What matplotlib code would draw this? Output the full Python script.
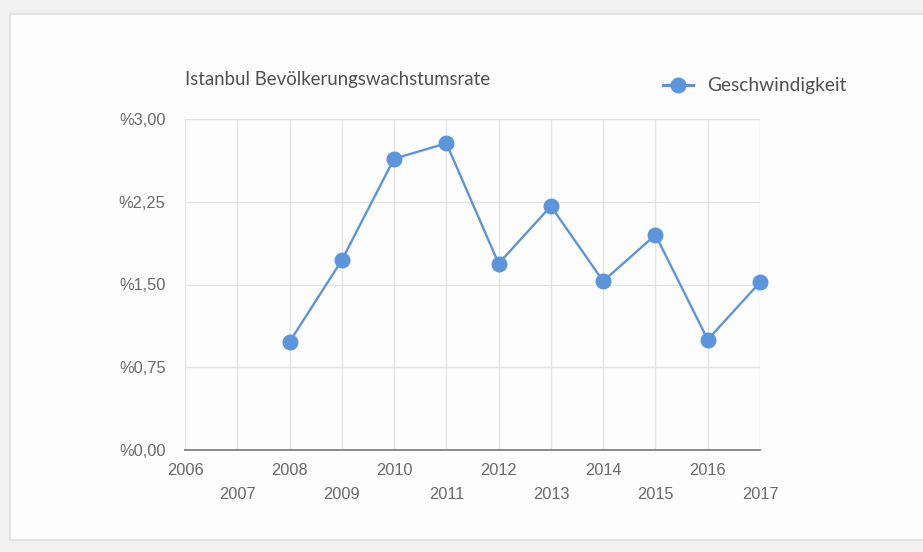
import matplotlib
matplotlib.use("Agg")
import matplotlib.pyplot as plt
from matplotlib.patches import Rectangle

years = [2008, 2009, 2010, 2011, 2012, 2013, 2014, 2015, 2016, 2017]
rates = [0.98, 1.72, 2.64, 2.78, 1.69, 2.21, 1.53, 1.95, 1.00, 1.52]
x_ticks = list(range(2006, 2018))
y_ticks = [0.0, 0.75, 1.5, 2.25, 3.0]
y_labels = ["%0,00", "%0,75", "%1,50", "%2,25", "%3,00"]
title = "Istanbul Bevölkerungswachstumsrate"
series_name = "Geschwindigkeit"

W, H = 923, 552
fig = plt.figure(figsize=(W / 100, H / 100), dpi=100)
fig.patch.set_facecolor("#f1f1f1")

# card background
bg = fig.add_axes([0, 0, 1, 1], zorder=0)
bg.set_xlim(0, W)
bg.set_ylim(H, 0)
bg.axis("off")
bg.add_patch(Rectangle((10, 14), W, 526, facecolor="#fdfdfd", edgecolor="#e0e0e0", lw=1.2))

ax = fig.add_axes([185 / W, 1 - 450 / H, (760 - 185) / W, (450 - 119) / H], zorder=2)
ax.set_facecolor("none")
blue = "#5b95dc"
ax.plot(years, rates, color=blue, lw=1.7, marker="o", markersize=10.5, zorder=3, clip_on=False)

tick_fs = 11.8
ax.set_xlim(2006, 2017)
ax.set_ylim(0, 3.0)
ax.set_xticks(x_ticks)
ax.set_xticklabels([str(y) if y % 2 == 0 else "" for y in x_ticks])
ax.set_yticks(y_ticks)
ax.set_yticklabels(y_labels)
ax.grid(True, color="#e4e4e4", lw=1.0)
ax.set_axisbelow(True)
for s in ["top", "right", "left"]:
    ax.spines[s].set_visible(False)
ax.spines["bottom"].set_color("#8a8a8a")
ax.spines["bottom"].set_linewidth(1.4)
ax.tick_params(axis="both", length=0, colors="#6a6a6a", labelsize=tick_fs)
ax.tick_params(axis="y", pad=14)
ax.tick_params(axis="x", pad=9.5)
for lab in ax.get_xticklabels() + ax.get_yticklabels():
    lab.set_fontfamily("Liberation Sans")
# odd year labels on second row
for y in x_ticks:
    if y % 2 == 1:
        ax.annotate(str(y), xy=(y, 0), xycoords=("data", "axes fraction"),
                    xytext=(0, -32), textcoords="offset points",
                    ha="center", va="center", fontsize=tick_fs, color="#6a6a6a",
                    family="Liberation Sans", annotation_clip=False)

fig.text(185 / W, 1 - 80 / H, title, ha="left", va="center", fontsize=13.4,
         color="#505050", family="Lato")

# legend
bg.plot([663, 693], [85, 85], color=blue, lw=2.2)
bg.plot([678], [85], marker="o", markersize=10.5, color=blue)
fig.text(707 / W, 1 - 85 / H, series_name, ha="left", va="center", fontsize=13.8,
         color="#505050", family="Lato")

fig.savefig("out.png", dpi=100, facecolor=fig.get_facecolor())
